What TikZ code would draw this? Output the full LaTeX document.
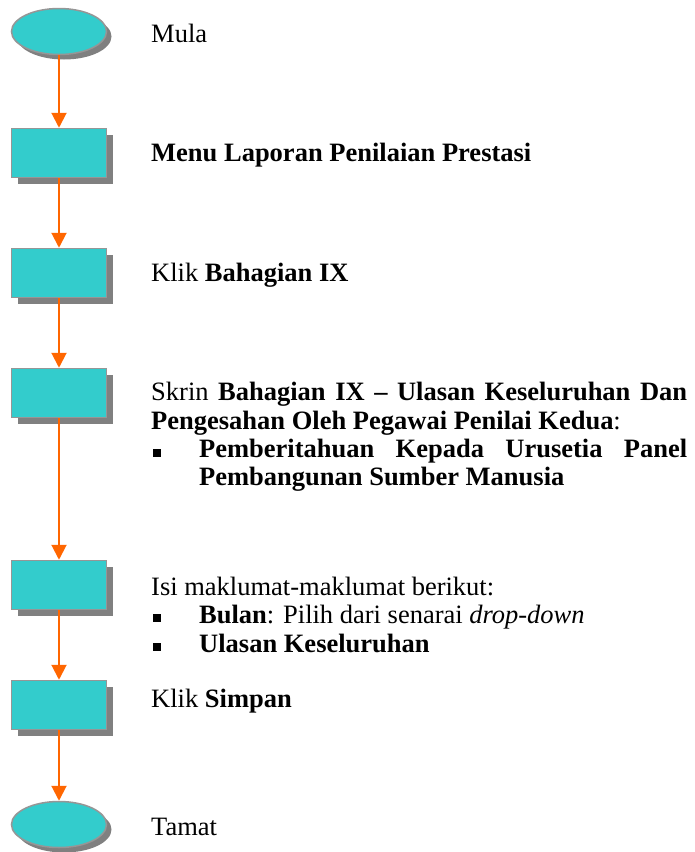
\documentclass[tikz,border=0pt]{standalone}
\usepackage{fontspec}
\setmainfont{Liberation Serif}
\usetikzlibrary{shapes.geometric,shadows,arrows.meta}
\definecolor{boxfill}{RGB}{51,204,204}
\definecolor{boxline}{RGB}{150,150,150}
\definecolor{shadowgray}{RGB}{128,128,128}
\definecolor{arrowor}{RGB}{255,102,0}
\tikzset{
  stepbox/.style={rectangle, draw=boxline, line width=1.5pt, fill=boxfill,
    minimum width=95pt, minimum height=49pt, inner sep=0pt,
    drop shadow={shadow xshift=6pt, shadow yshift=-6pt, fill=shadowgray, opacity=1}},
  termbox/.style={ellipse, draw=boxline, line width=1.5pt, fill=boxfill,
    minimum width=95pt, minimum height=46pt, inner sep=0pt,
    drop shadow={shadow xshift=5pt, shadow yshift=-5pt, fill=shadowgray, opacity=1}},
  flow/.style={draw=arrowor, line width=2pt, -{Triangle[width=15pt,length=15pt]}},
  lbl/.style={anchor=base west, inner sep=0pt, font=\fontsize{26.5}{28.5}\selectfont},
  bulletsq/.style={rectangle, fill=black, minimum size=8pt, inner sep=0pt}
}
\begin{document}
\begin{tikzpicture}[x=1pt,y=-1pt]
\useasboundingbox (0,0) rectangle (694,852);
\fill[white] (0,0) rectangle (694,852);
% shapes
\node[termbox] (s) at (59,31.5) {};
\node[stepbox] (b1) at (59,153) {};
\node[stepbox] (b2) at (59,273) {};
\node[stepbox] (b3) at (59,393) {};
\node[stepbox] (b4) at (59,585) {};
\node[stepbox] (b5) at (59,705) {};
\node[termbox] (e) at (59,824.5) {};
% connectors
\draw[flow] (s.south) -- (b1.north);
\draw[flow] (b1.south) -- (b2.north);
\draw[flow] (b2.south) -- (b3.north);
\draw[flow] (b3.south) -- (b4.north);
\draw[flow] (b4.south) -- (b5.north);
\draw[flow] (b5.south) -- (e.north);
% labels
\node[lbl] (t0) at (151,42) {Mula};
\node[lbl] (t1) at (151,161) {\textbf{Menu Laporan Penilaian Prestasi}};
\node[lbl] (t2) at (151,281) {Klik \textbf{Bahagian IX}};
\node[lbl] (t3a) at (151,400.5) {\makebox[536pt][s]{Skrin \textbf{Bahagian IX – Ulasan Keseluruhan Dan}}};
\node[lbl] (t3b) at (151,429) {\textbf{Pengesahan Oleh Pegawai Penilai Kedua}:};
\node[bulletsq] (k1) at (157,453) {};
\node[lbl] (t3c) at (199,457.5) {\makebox[488pt][s]{\textbf{Pemberitahuan Kepada Urusetia Panel}}};
\node[lbl] (t3d) at (199,485.5) {\textbf{Pembangunan Sumber Manusia}};
\node[lbl] (t4a) at (151,595) {Isi maklumat-maklumat berikut:};
\node[bulletsq] (k2) at (157,618) {};
\node[lbl] (t4b) at (199,623.5) {\textbf{Bulan}: Pilih dari senarai \textit{drop-down}};
\node[bulletsq] (k3) at (157,646.5) {};
\node[lbl] (t4c) at (199,652) {\textbf{Ulasan Keseluruhan}};
\node[lbl] (t5) at (151,707) {Klik \textbf{Simpan}};
\node[lbl] (t6) at (151,835) {Tamat};
\end{tikzpicture}
\end{document}
